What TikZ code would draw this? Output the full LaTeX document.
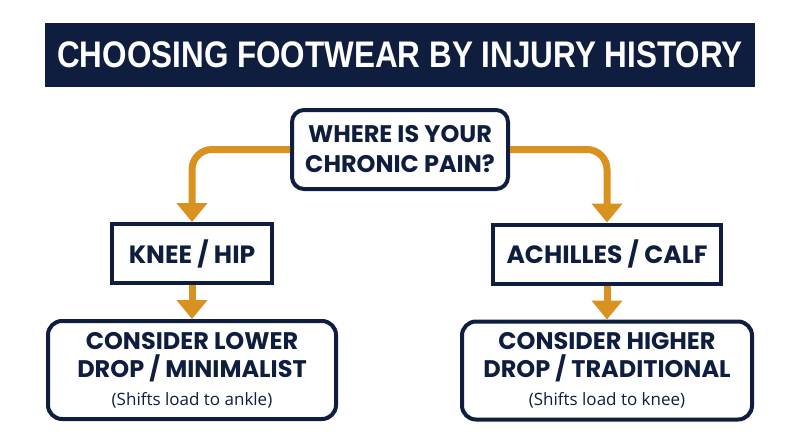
\documentclass[tikz,border=0pt]{standalone}
\usepackage{fontspec}
\setmainfont{Poppins}
\newfontfamily\titlefont{Liberation Sans}[FakeStretch=0.85]
\newfontfamily\notefont{Open Sans}
\usepackage{tikz}
\usetikzlibrary{positioning, arrows.meta}
\definecolor{Navy}{HTML}{0F1E3F}
\definecolor{Amber}{HTML}{D9911F}

\begin{document}
\begin{tikzpicture}[x=1pt, y=-1pt, every node/.style={text=Navy},
  question/.style={draw=Navy, line width=4pt, rounded corners=12pt, fill=white,
    minimum width=216pt, minimum height=79pt, align=center,
    font=\bfseries\fontsize{24}{30}\selectfont},
  region/.style={draw=Navy, line width=4pt, fill=white, minimum height=59pt,
    font=\bfseries\fontsize{25}{30}\selectfont},
  advice/.style={draw=Navy, line width=4pt, rounded corners=14pt, fill=white,
    minimum height=98pt, align=center, font=\bfseries\fontsize{24}{28}\selectfont},
  flow/.style={Amber, line width=7pt, rounded corners=20pt,
    -{Triangle[width=30pt, length=19pt]}}
]
  \useasboundingbox (0,0) rectangle (800,447);

  % Title banner
  \node[fill=Navy, text=white, minimum width=710pt, minimum height=64pt,
    font=\titlefont\bfseries\fontsize{37}{40}\selectfont] (title) at (400,55)
    {CHOOSING FOOTWEAR BY INJURY HISTORY};

  % Decision
  \node[question] (pain) at (400,149.5) {WHERE IS YOUR\\CHRONIC PAIN?};

  % Regions
  \node[region, minimum width=160pt] (knee) at (192,253.5) {KNEE / HIP};
  \node[region, minimum width=228pt] (achilles) at (607,254) {ACHILLES / CALF};

  % Advice
  \node[advice, minimum width=288pt, below=34pt of knee] (lower)
    {CONSIDER LOWER\\DROP / MINIMALIST\\
     {\notefont\mdseries\fontsize{17}{22}\selectfont (Shifts load to ankle)}};
  \node[advice, minimum width=290pt, below=34pt of achilles] (higher)
    {CONSIDER HIGHER\\DROP / TRADITIONAL\\
     {\notefont\mdseries\fontsize{17}{22}\selectfont (Shifts load to knee)}};

  % Arrows
  \draw[flow] (pain.west) -| (knee.north);
  \draw[flow] (pain.east) -| (achilles.north);
  \draw[flow] (knee) -- (lower);
  \draw[flow] (achilles) -- (higher);
\end{tikzpicture}
\end{document}
